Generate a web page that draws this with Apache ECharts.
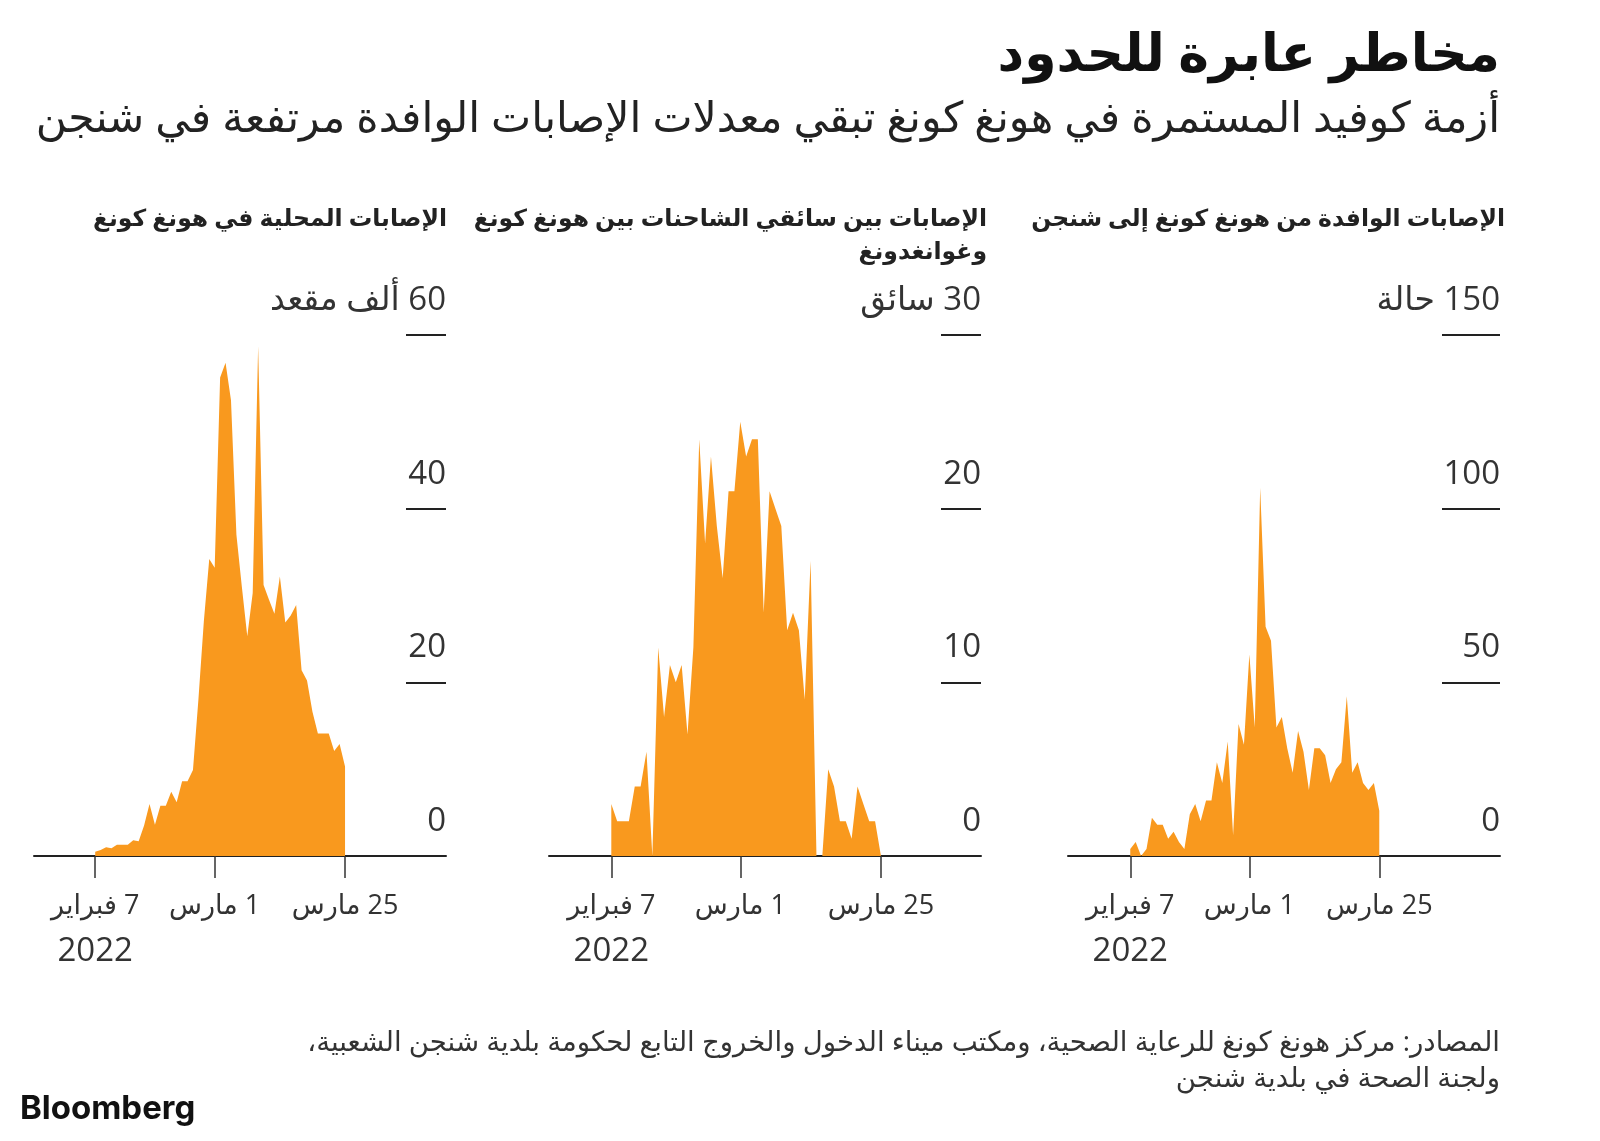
<!DOCTYPE html>
<html lang="ar" dir="rtl">
<head>
<meta charset="utf-8">
<script src="https://cdn.jsdelivr.net/npm/echarts@6/dist/echarts.min.js"></script>
<style>html,body{margin:0;padding:0;background:#fff}#c{width:1600px;height:1141px}</style>
</head>
<body>
<div id="c"></div>
<script>
// ---------- data ----------
const startDate = '2022-02-07';           // first daily value of every series
// Imported cases from Hong Kong into Shenzhen (cases)
const importedShenzhen = [2,4,0,2,11,9,9,5,7,4,2,12,15,10,16,16,27,21,33,6,38,32,58,37,106,66,62,37,40,31,24,36,30,19,31,31,29,21,25,27,46,24,27,21,19,21,13];
// Cases among cross-border truck drivers (drivers)
const truckDrivers = [3,2,2,2,4,4,6,0,12,8,11,10,11,7,12,24,18,23,19,16,21,21,25,23,24,24,14,21,20,19,13,14,13,9,17,0,0,5,4,2,2,1,4,3,2,2,0];
// Local cases in Hong Kong (thousands)
const hkLocal = [0.5,0.7,1.0,0.9,1.3,1.3,1.3,1.8,1.7,3.5,6.0,3.6,5.8,5.8,7.4,6.2,8.6,8.6,9.9,18,27,34.2,33.2,55.1,56.8,52.5,37,31,25.3,30.3,58.7,31.2,29.5,27.9,32.2,26.9,27.7,28.9,21.4,20.2,16.6,14.1,14.1,14.1,12.1,12.9,10.3];

const xTickDates = ['2022-02-07','2022-03-01','2022-03-25'];
const xTickLabels = ['7 فبراير','1 مارس','25 مارس'];
const yearLabel = '2022';

const panelTitles = ['الإصابات الوافدة من هونغ كونغ إلى شنجن','الإصابات بين سائقي الشاحنات بين هونغ كونغ\nوغوانغدونغ','الإصابات المحلية في هونغ كونغ'];
const yMaxes = [150, 30, 60];
const ySteps = [50, 10, 20];
const yUnits = ['حالة', 'سائق', 'ألف مقعد'];

const titleText = 'مخاطر عابرة للحدود';
const subtitleText = 'أزمة كوفيد المستمرة في هونغ كونغ تبقي معدلات الإصابات الوافدة مرتفعة في شنجن';
const sourceLine1 = 'المصادر: مركز هونغ كونغ للرعاية الصحية، ومكتب ميناء الدخول والخروج التابع لحكومة بلدية شنجن الشعبية،';
const sourceLine2 = 'ولجنة الصحة في بلدية شنجن';
const brand = 'Bloomberg';

// ---------- build ----------
const DAY = 86400000;
const t0 = Date.parse(startDate + 'T00:00:00Z');
const dayOf = d => Math.round((Date.parse(d + 'T00:00:00Z') - t0) / DAY);   // days since startDate
function toSeries(vals){ return vals.map((v,i)=>[i, v]); }
const tickDays = xTickDates.map(dayOf);
const lastTick = tickDays[tickDays.length - 1];

const FONT = "'Open Sans','Noto Sans','DejaVu Sans',sans-serif";
const ORANGE = '#F9991E';

// panels ordered right -> left as in the picture
const panels = [
  {data: importedShenzhen, left: 1068, right: 1500, padL: 11.5, padR: 22.3, tick: 58, titleX: 1505},
  {data: truckDrivers,     left: 549,  right: 981,  padL: 10.63, padR: 17.07, tick: 40, titleX: 987},
  {data: hkLocal,          left: 34,   right: 446,  padL: 11.27, padR: 18.59, tick: 40, titleX: 447}
];

const grid = [], xAxis = [], yAxis = [], series = [], graphic = [];
panels.forEach((p, i) => {
  grid.push({left: p.left, right: 1600 - p.right, top: 335, bottom: 285, containLabel: false});
  xAxis.push({
    type: 'value', gridIndex: i,
    min: tickDays[0] - p.padL, max: lastTick + p.padR,
    axisLine: {show: true, onZero: false, lineStyle: {color: '#222', width: 2}},
    axisTick: {show: true, length: 22, customValues: tickDays, lineStyle: {color: '#333', width: 1.5}},
    splitLine: {show: false},
    axisLabel: {
      customValues: tickDays, margin: 28, color: '#333', fontFamily: FONT, fontSize: 27,
      showMinLabel: true, showMaxLabel: true,
      formatter: function(v){
        const k = tickDays.indexOf(Math.round(v));
        if (k < 0) return '';
        return k === 0 ? '{d|' + xTickLabels[k] + '}\n{y|' + yearLabel + '}' : '{d|' + xTickLabels[k] + '}';
      },
      rich: {
        d: {fontSize: 27, fontFamily: FONT, color: '#333', lineHeight: 45},
        y: {fontSize: 33, fontFamily: FONT, color: '#333', lineHeight: 45}
      }
    }
  });
  yAxis.push({
    type: 'value', gridIndex: i, position: 'right', min: 0, max: yMaxes[i], interval: ySteps[i],
    axisLine: {show: false, onZero: false},
    axisTick: {show: true, inside: true, length: p.tick, lineStyle: {color: '#222', width: 2}},
    splitLine: {show: false},
    axisLabel: {
      inside: true, margin: 0, align: 'right', verticalAlign: 'bottom', padding: [0, 0, 18, 0],
      fontSize: 33, color: '#333', fontFamily: FONT,
      formatter: function(v){ return v === yMaxes[i] ? v + ' ' + yUnits[i] : String(v); }
    }
  });
  series.push({
    type: 'line', xAxisIndex: i, yAxisIndex: i, data: toSeries(p.data),
    showSymbol: false, symbol: 'none', silent: true,
    lineStyle: {width: 0, color: ORANGE},
    areaStyle: {color: ORANGE, opacity: 1},
    z: 1
  });
  graphic.push({
    type: 'text', x: p.titleX, y: 203, z: 10,
    style: {text: panelTitles[i], align: 'right', verticalAlign: 'top', fill: '#222',
            fontSize: 23.5, fontWeight: 'bold', fontFamily: FONT, lineHeight: 33}
  });
});

graphic.push(
  {type: 'text', x: 1500, y: 56, style: {text: titleText, align: 'right', verticalAlign: 'middle', fill: '#111', fontSize: 52, fontWeight: 'bold', fontFamily: FONT}},
  {type: 'text', x: 1500, y: 120, style: {text: subtitleText, align: 'right', verticalAlign: 'middle', fill: '#222', fontSize: 42.6, fontFamily: FONT}},
  {type: 'text', x: 1500, y: 1043, style: {text: sourceLine1, align: 'right', verticalAlign: 'middle', fill: '#333', fontSize: 27.6, fontFamily: FONT}},
  {type: 'text', x: 1500, y: 1079, style: {text: sourceLine2, align: 'right', verticalAlign: 'middle', fill: '#333', fontSize: 27.6, fontFamily: FONT}},
  {type: 'text', x: 20, y: 1109, style: {text: brand, align: 'left', verticalAlign: 'middle', fill: '#111', fontSize: 33, fontWeight: 'bold', fontFamily: "Inter,Roboto,'Liberation Sans',sans-serif"}}
);

const chart = echarts.init(document.getElementById('c'), null, {renderer: 'canvas'});
chart.setOption({
  backgroundColor: '#fff',
  animation: false,
  grid, xAxis, yAxis, series, graphic
});
</script>
</body>
</html>
